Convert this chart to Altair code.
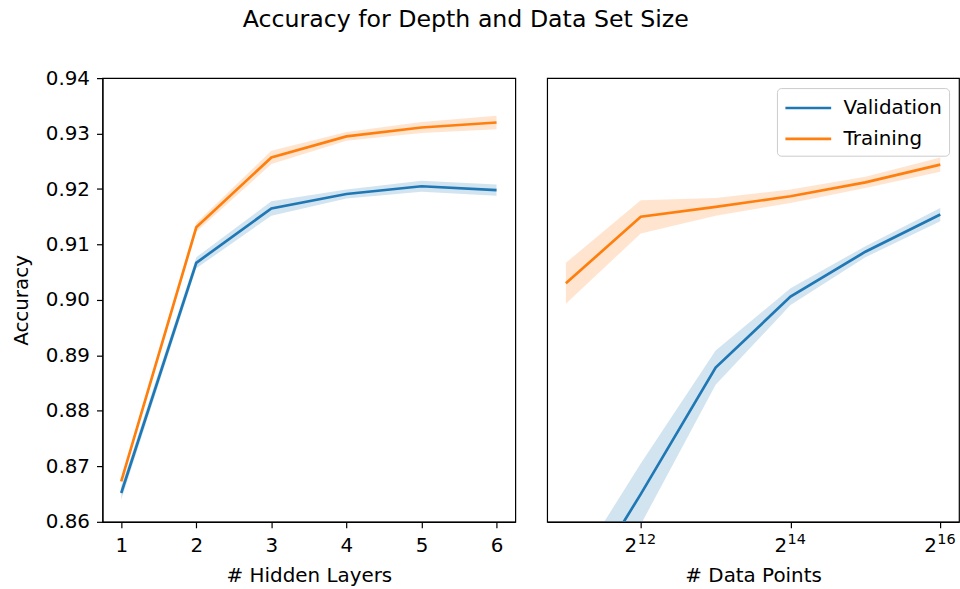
import altair as alt
import pandas as pd

# ---- data ----
series_names = ["Validation", "Training"]
series_colors = ["#1f77b4", "#ff7f0e"]

layers = [1, 2, 3, 4, 5, 6]
depth_val = [0.8652, 0.9067, 0.9165, 0.9191, 0.9205, 0.9198]
depth_val_err = [0.0012, 0.0010, 0.0013, 0.0008, 0.0010, 0.0010]
depth_train = [0.8673, 0.9131, 0.9257, 0.9295, 0.9311, 0.9320]
depth_train_err = [0.0004, 0.0008, 0.0012, 0.0008, 0.0010, 0.0012]

exponents = [11, 12, 13, 14, 15, 16]
size_val = [0.8430, 0.8650, 0.8878, 0.9006, 0.9087, 0.9154]
size_val_err = [0.0060, 0.0055, 0.0031, 0.0015, 0.0010, 0.0012]
size_train = [0.9030, 0.9150, 0.9168, 0.9187, 0.9212, 0.9244]
size_train_err = [0.0037, 0.0030, 0.0016, 0.0012, 0.0010, 0.0013]

y_ticks = [0.86, 0.87, 0.88, 0.89, 0.90, 0.91, 0.92, 0.93, 0.94]
x_tick_exponents = [12, 14, 16]


def make_df(xs, val, val_err, train, train_err, xname):
    rows = []
    for s, m, e in [("Validation", val, val_err), ("Training", train, train_err)]:
        for x, v, d in zip(xs, m, e):
            rows.append({xname: x, "series": s, "acc": v, "lo": v - d, "hi": v + d})
    return pd.DataFrame(rows)


df_depth = make_df(layers, depth_val, depth_val_err, depth_train, depth_train_err, "layers")
df_size = make_df([2 ** e for e in exponents], size_val, size_val_err,
                  size_train, size_train_err, "points")
df_ticks = pd.DataFrame({"points": [2 ** e for e in x_tick_exponents],
                         "exp": [str(e) for e in x_tick_exponents]})

FONT = "DejaVu Sans"
FS = 20
yscale = alt.Scale(domain=[0.86, 0.94], nice=False, zero=False)


def color_enc(legend):
    return alt.Color("series:N",
                     scale=alt.Scale(domain=series_names, range=series_colors),
                     legend=legend)


y_axis_left = alt.Axis(values=y_ticks, format=".2f", title="Accuracy", grid=False,
                       tickSize=6, labelPadding=7, titleX=-81.5, titleY=223,
                       titleAngle=-90, titleAlign="center", titleBaseline="middle")

# ---- left panel ----
x_left = alt.X("layers:Q", scale=alt.Scale(domain=[0.75, 6.25], nice=False, zero=False),
               axis=alt.Axis(values=layers, format="d", title="# Hidden Layers", grid=False,
                             tickSize=6, labelPadding=8, titleY=60,
                             titleBaseline="alphabetic"))
left_base = alt.Chart(df_depth)
left = alt.layer(
    left_base.mark_area(opacity=0.2, clip=True).encode(
        x=x_left, y=alt.Y("lo:Q", scale=yscale, axis=y_axis_left), y2="hi:Q",
        color=color_enc(None)),
    left_base.mark_line(strokeWidth=2.7, clip=True).encode(
        x=x_left, y=alt.Y("acc:Q", scale=yscale, axis=y_axis_left),
        color=color_enc(None)),
).properties(width=415, height=446)

# ---- right panel ----
x_scale_right = alt.Scale(type="log", base=2, domain=[2 ** 10.75, 2 ** 16.25], nice=False)
x_right = alt.X("points:Q", scale=x_scale_right,
                axis=alt.Axis(values=[2 ** e for e in x_tick_exponents],
                              labelExpr="'2'", labelAlign="right", labelOffset=-4,
                              title="# Data Points", grid=False, tickSize=6,
                              labelPadding=8, titleY=60, titleBaseline="alphabetic"))
legend = alt.Legend(orient="top-right", title=None, symbolType="M-1,0H3", symbolSize=529,
                    symbolStrokeWidth=2.7, symbolOpacity=1, labelFontSize=FS,
                    labelFont=FONT, padding=7, offset=10, strokeColor="#cccccc",
                    fillColor="rgba(255,255,255,0.8)", cornerRadius=4, rowPadding=8,
                    labelOffset=34)
right_base = alt.Chart(df_size)
right = alt.layer(
    right_base.mark_area(opacity=0.2, clip=True).encode(
        x=x_right, y=alt.Y("lo:Q", scale=yscale, axis=None), y2="hi:Q",
        color=color_enc(legend)),
    right_base.mark_line(strokeWidth=2.7, clip=True).encode(
        x=x_right, y=alt.Y("acc:Q", scale=yscale, axis=None),
        color=color_enc(legend)),
    alt.Chart(df_ticks).mark_text(align="left", baseline="alphabetic", dx=-3,
                                  fontSize=14.5, font=FONT, color="black").encode(
        x=alt.X("points:Q", scale=x_scale_right), y=alt.value(468), text="exp:N"),
).properties(width=414, height=446)

chart = alt.hconcat(left, right, spacing=30).resolve_scale(
    y="independent").resolve_legend(color="independent").properties(
    title=alt.TitleParams("Accuracy for Depth and Data Set Size", anchor="start", frame="group",
                          dx=141, offset=17, baseline="alphabetic", fontSize=23.8,
                          font=FONT, fontWeight="normal", color="black"),
    padding={"left": 10, "top": 6, "right": 0, "bottom": 0},
    background="white",
).configure_view(stroke="black", strokeWidth=1.2).configure_axis(
    labelFont=FONT, titleFont=FONT, labelFontSize=FS, titleFontSize=FS,
    titleFontWeight="normal", labelColor="black", titleColor="black",
    domainColor="black", tickColor="black", domainWidth=1.2, tickWidth=1.2,
    labelFlush=False, labelOverlap=False
)

chart.save("out.html", embed_options={"renderer": "svg", "actions": False})
